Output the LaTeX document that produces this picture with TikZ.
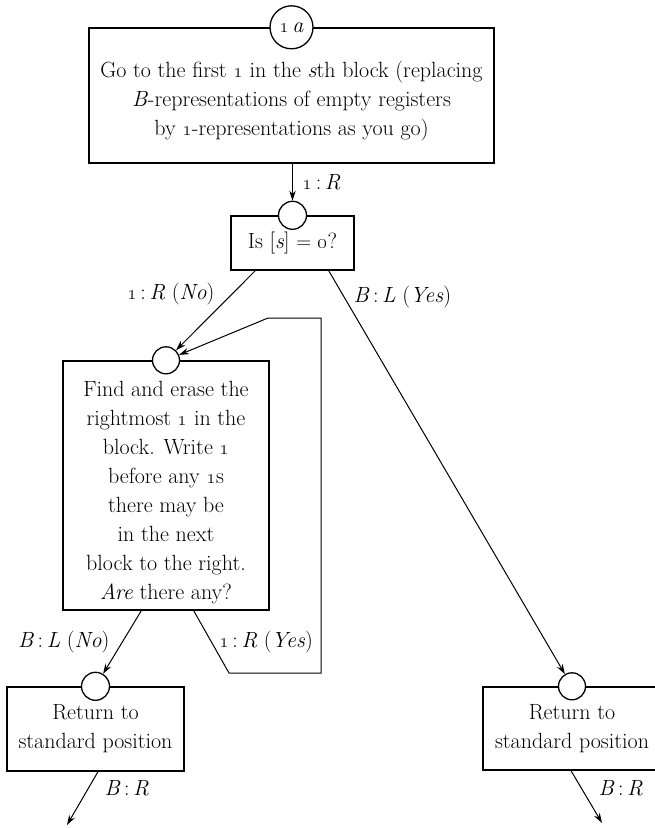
\documentclass[tikz,border=0pt]{standalone}
\usetikzlibrary{arrows.meta}

\tikzset{
  box/.style={draw, line width=1.4pt, rectangle, align=center, inner sep=0pt},
  port/.style={draw, line width=1.3pt, circle, fill=white, inner sep=0pt, minimum size=28pt},
  flow/.style={line width=1pt, -{Stealth[length=10pt,width=6.5pt]}},
  link/.style={line width=1pt},
}
\newcommand{\one}{\oldstylenums{1}}

\begin{document}
\begin{tikzpicture}[x=1pt,y=-1pt,font=\fontsize{22}{29}\selectfont]
\useasboundingbox (0,0) rectangle (654,828);

\node[box, minimum width=405pt, minimum height=135pt] (go) at (291.5,95.5)
  {\rule{0pt}{27pt}Go to the first \one\ in the \textit{s}th block (replacing\\
   \textit{B}-representations of empty registers\\
   by \one-representations as you go)};
\node[port, minimum size=43pt] (c1) at (go.north) {\one\,\textit{a}};

\node[box, minimum width=123pt, minimum height=54pt] (test) at (292.5,243)
  {Is [\textit{s}] $=$ \oldstylenums{0}?};
\node[port] (c2) at (test.north) {};

\node[box, minimum width=206pt, minimum height=249pt] (find) at (166,485.5)
  {\rule{0pt}{30pt}Find and erase the\\ rightmost \one\ in the\\ block. Write \one\\
   before any \one s\\ there may be\\ in the next\\ block to the right.\\
   \textit{Are} there any?};
\node[port, minimum size=27pt] (c3) at (find.north) {};

\node[box, minimum width=177pt, minimum height=84pt] (retl) at (95.5,729)
  {Return to\\ standard position};
\node[port] (c4) at (retl.north) {};

\node[box, minimum width=178pt, minimum height=83pt] (retr) at (572,728.5)
  {Return to\\ standard position};
\node[port, minimum size=27pt] (c5) at (retr.north) {};

\coordinate (l1) at (229,673);
\coordinate (l2) at (321,673);
\coordinate (l3) at (321,318);
\coordinate (l4) at (268,318);
\coordinate (outl) at (67,825);
\coordinate (outr) at (602,823);

\draw[flow] (go.south -| c2) -- (c2);
\draw[flow] ([xshift=25pt]test.south west) -- (c3);
\draw[flow] ([xshift=-26pt]test.south east) -- (c5);
\draw[link] ([xshift=-76pt]find.south east) -- (l1) -- (l2) -- (l3) -- (l4);
\draw[flow] (l4) -- (c3);
\draw[flow] ([xshift=79pt]find.south west) -- (c4);
\draw[flow] ([xshift=2.5pt]retl.south) -- (outl);
\draw[flow] ([xshift=-1pt]retr.south) -- (outr);

\node[anchor=west] (t1) at (299,182) {\one\,:\,\textit{R}};
\node[anchor=east] (t2) at (218,294) {\one\,:\,\textit{R} (\textit{No})};
\node[anchor=west] (t3) at (350,297) {\textit{B}\,:\,\textit{L} (\textit{Yes})};
\node (t4) at (266,642) {\one\,:\,\textit{R} (\textit{Yes})};
\node[anchor=east] (t5) at (113,642) {\textit{B}\,:\,\textit{L} (\textit{No})};
\node[anchor=west] (t6) at (101,788) {\textit{B}\,:\,\textit{R}};
\node[anchor=west] (t7) at (595,788) {\textit{B}\,:\,\textit{R}};

\end{tikzpicture}
\end{document}
